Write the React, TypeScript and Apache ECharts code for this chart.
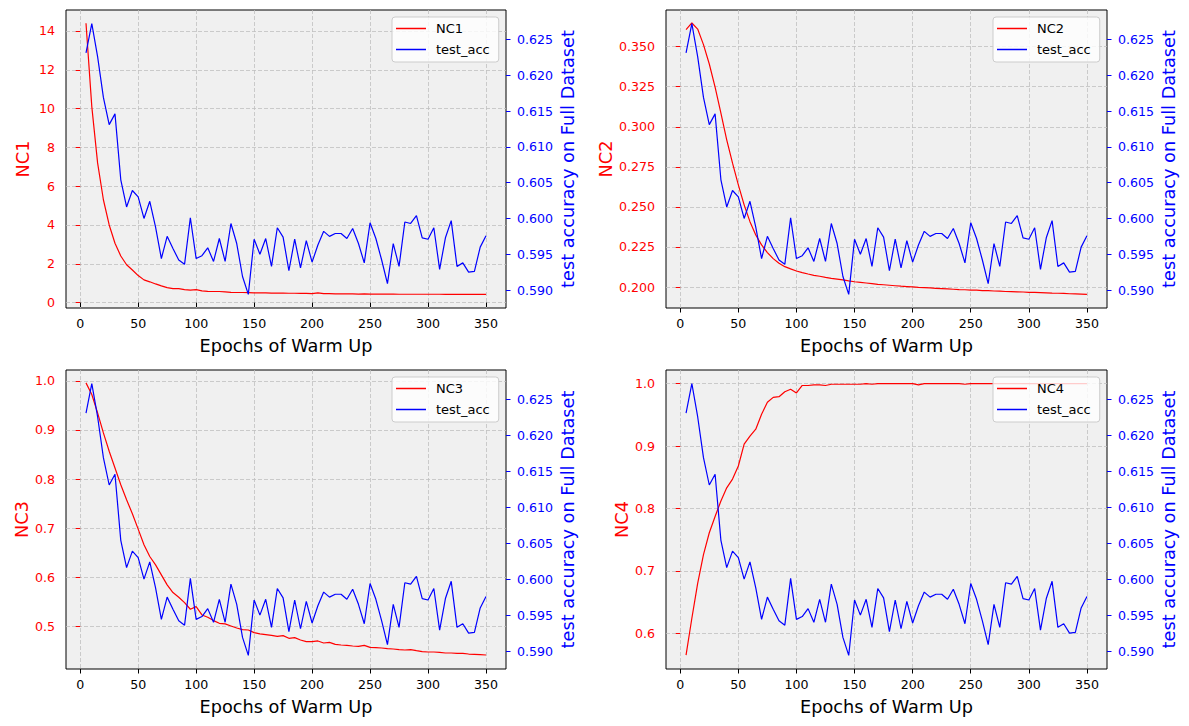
import React, { useEffect, useRef } from "react";
import * as echarts from "echarts";

const epochs = [
  5, 10, 15, 20, 25, 30, 35, 40, 45, 50, 55, 60, 65, 70, 75, 80, 85, 90, 95, 100,
  105, 110, 115, 120, 125, 130, 135, 140, 145, 150, 155, 160, 165, 170, 175, 180, 185, 190, 195, 200,
  205, 210, 215, 220, 225, 230, 235, 240, 245, 250, 255, 260, 265, 270, 275, 280, 285, 290, 295, 300,
  305, 310, 315, 320, 325, 330, 335, 340, 345, 350,
];

const testAcc = [
  0.6231, 0.6272, 0.6226, 0.6169, 0.6131, 0.6146, 0.6054, 0.6016, 0.6039, 0.603,
  0.6, 0.6024, 0.5988, 0.5944, 0.5975, 0.5958, 0.5942, 0.5936, 0.6001, 0.5944,
  0.5948, 0.5959, 0.594, 0.5972, 0.594, 0.5993, 0.5965, 0.5919, 0.5894, 0.5971,
  0.595, 0.5972, 0.5933, 0.5987, 0.5974, 0.5927, 0.5971, 0.5931, 0.5969, 0.5939,
  0.5963, 0.5982, 0.5975, 0.5979, 0.5979, 0.5972, 0.5986, 0.5965, 0.5938, 0.5994,
  0.5972, 0.5942, 0.5909, 0.5965, 0.5933, 0.5995, 0.5993, 0.6004, 0.5973, 0.5971,
  0.5987, 0.5929, 0.5973, 0.5997, 0.5933, 0.5938, 0.5925, 0.5926, 0.596, 0.5976,
];

const nc1 = [
  14.4, 10.1, 7.2, 5.3, 4.0, 3.06, 2.4, 1.95, 1.68, 1.39,
  1.17, 1.07, 0.96, 0.86, 0.77, 0.72, 0.72, 0.67, 0.64, 0.67,
  0.6, 0.58, 0.57, 0.57, 0.55, 0.53, 0.52, 0.52, 0.51, 0.5,
  0.5, 0.5, 0.49, 0.49, 0.49, 0.48, 0.48, 0.47, 0.47, 0.46,
  0.5, 0.46, 0.46, 0.45, 0.45, 0.45, 0.45, 0.44, 0.45, 0.44,
  0.44, 0.44, 0.44, 0.44, 0.43, 0.43, 0.43, 0.43, 0.43, 0.43,
  0.43, 0.43, 0.42, 0.43, 0.42, 0.42, 0.42, 0.42, 0.42, 0.42,
];

const nc2 = [
  0.3606, 0.3648, 0.361, 0.3513, 0.3392, 0.3248, 0.3085, 0.2919, 0.2773, 0.2638,
  0.2513, 0.2408, 0.2325, 0.2263, 0.2215, 0.2177, 0.2148, 0.2127, 0.2113, 0.21,
  0.209, 0.2081, 0.2073, 0.2067, 0.206, 0.2054, 0.2049, 0.2044, 0.2038, 0.2033,
  0.2029, 0.2025, 0.2021, 0.2017, 0.2014, 0.2011, 0.2008, 0.2005, 0.2003, 0.2001,
  0.1998, 0.1996, 0.1994, 0.1992, 0.199, 0.1988, 0.1986, 0.1984, 0.1983, 0.1981,
  0.198, 0.1978, 0.1977, 0.1975, 0.1974, 0.1972, 0.1971, 0.197, 0.1969, 0.1967,
  0.1966, 0.1965, 0.1964, 0.1962, 0.1961, 0.196, 0.1958, 0.1957, 0.1956, 0.1954,
];

const nc3 = [
  0.9959, 0.9721, 0.9347, 0.8939, 0.8565, 0.8224, 0.7884, 0.7578, 0.7293, 0.698,
  0.666, 0.6422, 0.6252, 0.6048, 0.5844, 0.5687, 0.5592, 0.5483, 0.5347, 0.5401,
  0.5231, 0.5184, 0.5116, 0.5061, 0.5048, 0.5007, 0.4966, 0.4932, 0.4925, 0.4871,
  0.4844, 0.483, 0.4816, 0.4796, 0.481, 0.4755, 0.4769, 0.4721, 0.4687, 0.4687,
  0.4701, 0.466, 0.4673, 0.4633, 0.4619, 0.4612, 0.4599, 0.4592, 0.4612, 0.4571,
  0.4565, 0.4558, 0.4544, 0.4537, 0.4524, 0.4517, 0.4524, 0.4503, 0.4483, 0.4476,
  0.4476, 0.4469, 0.4456, 0.4456, 0.4449, 0.4449, 0.4435, 0.4429, 0.4422, 0.4415,
];

const nc4 = [
  0.565, 0.624, 0.68, 0.726, 0.761, 0.787, 0.812, 0.833, 0.847, 0.868,
  0.903, 0.916, 0.927, 0.951, 0.97, 0.978, 0.979, 0.987, 0.991, 0.985,
  0.997, 0.997, 0.998, 0.998, 0.997, 0.999, 0.999, 0.999, 0.999, 0.999,
  0.999, 1.0, 0.999, 1.0, 1.0, 1.0, 1.0, 1.0, 1.0, 1.0,
  0.998, 1.0, 1.0, 1.0, 1.0, 1.0, 1.0, 1.0, 0.999, 1.0,
  1.0, 1.0, 1.0, 1.0, 1.0, 1.0, 1.0, 1.0, 1.0, 1.0,
  1.0, 1.0, 1.0, 1.0, 1.0, 1.0, 1.0, 1.0, 1.0, 1.0,
];

const xTicks = [0, 50, 100, 150, 200, 250, 300, 350];
const accTicks = [0.59, 0.595, 0.6, 0.605, 0.61, 0.615, 0.62, 0.625];
const nc1Ticks = [0, 2, 4, 6, 8, 10, 12, 14];
const nc2Ticks = [0.2, 0.225, 0.25, 0.275, 0.3, 0.325, 0.35];
const nc3Ticks = [0.5, 0.6, 0.7, 0.8, 0.9, 1.0];
const nc4Ticks = [0.6, 0.7, 0.8, 0.9, 1.0];

const xLabel = "Epochs of Warm Up";
const accLabel = "test accuracy on Full Dataset";
const accName = "test_acc";

const FONT = "DejaVu Sans";
const RED = "#ff0000";
const BLUE = "#0000ff";

const panels = [
  { name: "NC1", data: nc1, ticks: nc1Ticks, min: -0.28, max: 15.08, dec: 0, left: 66, top: 10, width: 440, height: 298 },
  { name: "NC2", data: nc2, ticks: nc2Ticks, min: 0.1869, max: 0.3729, dec: 3, left: 666, top: 10, width: 441, height: 298 },
  { name: "NC3", data: nc3, ticks: nc3Ticks, min: 0.413, max: 1.0221, dec: 1, left: 66, top: 370, width: 440, height: 299 },
  { name: "NC4", data: nc4, ticks: nc4Ticks, min: 0.5427, max: 1.0218, dec: 1, left: 666, top: 370, width: 441, height: 299 },
];

function buildOption() {
  const grid: any[] = [];
  const xAxis: any[] = [];
  const yAxis: any[] = [];
  const series: any[] = [];
  const legend: any[] = [];

  panels.forEach((p, i) => {
    grid.push({
      left: p.left,
      top: p.top,
      width: p.width,
      height: p.height,
      show: true,
      backgroundColor: "#f0f0f0",
      borderColor: "#000",
      borderWidth: 1,
      z: 0,
    });
    xAxis.push({
      type: "value",
      gridIndex: i,
      min: -12.25,
      max: 367.25,
      name: xLabel,
      nameLocation: "middle",
      nameGap: 29,
      nameTextStyle: { fontSize: 17.7, color: "#000", fontFamily: FONT },
      axisLine: { show: false },
      axisTick: { show: true, length: 4.5, customValues: xTicks, lineStyle: { color: "#000", width: 1 } },
      axisLabel: { customValues: xTicks, color: "#000", fontSize: 12.6, margin: 9, fontFamily: FONT },
      splitLine: { show: true, lineStyle: { color: "#c0c0c0", type: [4, 2], width: 0.8 } },
    });
    yAxis.push({
      type: "value",
      gridIndex: i,
      position: "left",
      min: p.min,
      max: p.max,
      name: p.name,
      nameLocation: "middle",
      nameRotate: 90,
      nameGap: 34,
      nameTextStyle: { fontSize: 17.7, color: RED, fontFamily: FONT },
      axisLine: { show: false },
      axisTick: { show: true, length: 4.5, customValues: p.ticks, lineStyle: { color: RED, width: 1 } },
      axisLabel: {
        customValues: p.ticks,
        color: RED,
        fontSize: 12.6,
        margin: 11,
        fontFamily: FONT,
        formatter: (v: number) => v.toFixed(p.dec),
      },
      splitLine: { show: true, lineStyle: { color: "#c0c0c0", type: [4, 2], width: 0.8 } },
    });
    yAxis.push({
      type: "value",
      gridIndex: i,
      position: "right",
      min: 0.5875,
      max: 0.6291,
      name: accLabel,
      nameLocation: "middle",
      nameRotate: 90,
      nameGap: 53,
      nameTextStyle: { fontSize: 17.7, color: BLUE, fontFamily: FONT },
      axisLine: { show: false },
      axisTick: { show: true, length: 4.5, customValues: accTicks, lineStyle: { color: BLUE, width: 1 } },
      axisLabel: {
        customValues: accTicks,
        color: BLUE,
        fontSize: 12.6,
        margin: 11,
        fontFamily: FONT,
        formatter: (v: number) => v.toFixed(3),
      },
      splitLine: { show: false },
    });
    series.push({
      type: "line",
      name: p.name,
      xAxisIndex: i,
      yAxisIndex: 2 * i,
      data: epochs.map((e, k) => [e, p.data[k]]),
      showSymbol: false,
      color: RED,
      lineStyle: { color: RED, width: 1.2 },
      z: 2,
    });
    series.push({
      type: "line",
      name: accName,
      xAxisIndex: i,
      yAxisIndex: 2 * i + 1,
      data: epochs.map((e, k) => [e, testAcc[k]]),
      showSymbol: false,
      color: BLUE,
      lineStyle: { color: BLUE, width: 1.2 },
      z: 3,
    });
    legend.push({
      orient: "vertical",
      left: p.left + p.width - 114,
      top: p.top + 7,
      data: [p.name, accName],
      icon: "rect",
      itemWidth: 30,
      itemHeight: 1.5,
      itemGap: 8,
      padding: [5, 9, 6, 4],
      backgroundColor: "rgba(255,255,255,0.8)",
      borderColor: "#cccccc",
      borderWidth: 1,
      borderRadius: 3,
      selectedMode: false,
      textStyle: { fontSize: 13, color: "#000", fontFamily: FONT, padding: [0, 0, 0, 5] },
      z: 10,
    });
  });

  return {
    animation: false,
    backgroundColor: "#ffffff",
    textStyle: { fontFamily: FONT },
    grid,
    xAxis,
    yAxis,
    series,
    legend,
  };
}

export default function App() {
  const ref = useRef<HTMLDivElement>(null);
  useEffect(() => {
    if (!ref.current) return;
    const chart = echarts.init(ref.current, undefined, { renderer: "svg" });
    chart.setOption(buildOption() as any);
    return () => chart.dispose();
  }, []);
  return (
    <div
      ref={ref}
      style={{ position: "absolute", left: 0, top: 0, width: 1189, height: 726, background: "#fff" }}
    />
  );
}
